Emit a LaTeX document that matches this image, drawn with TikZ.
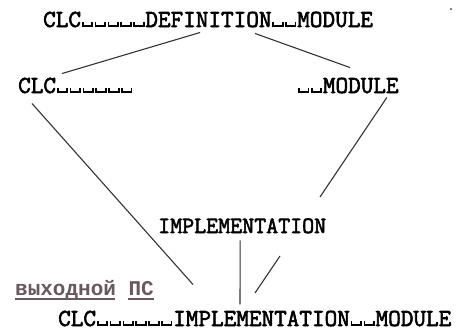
\documentclass[tikz,border=0pt]{standalone}
\usepackage{fontspec}
\newfontfamily\tw{Latin Modern Mono}[FakeBold=2.4]
\newfontfamily\cyr{Liberation Mono}
\newcommand\vsp{\makebox[0.525em]{\rule{0.07em}{0.2em}\rule{0.32em}{0.07em}\rule{0.07em}{0.2em}}}
\definecolor{stamp}{RGB}{105,88,95}
\tikzset{
  lbl/.style={inner sep=0, anchor=base west, font=\tw\fontsize{24.5}{26}\selectfont},
  ln/.style={line width=1.1pt, black!80}
}

\begin{document}
\begin{tikzpicture}[x=1pt, y=-1pt]
      \useasboundingbox (0,0) rectangle (461,330);

      \node (def) at (43,27) [lbl] {CLC\vsp\vsp\vsp\vsp\vsp DEFINITION\vsp\vsp MODULE};
      \node (clc) at (18,93) [lbl] {CLC\vsp\vsp\vsp\vsp\vsp\vsp};
      \node (mod) at (297,93) [lbl] {\vsp\vsp MODULE};
      \node (impl) at (158,233) [lbl, font=\tw\fontsize{23.3}{25}\selectfont] {IMPLEMENTATION};
      \node (out) at (15,295) [lbl, stamp, font=\cyr\bfseries\fontsize{21}{23}\selectfont] {выходной ПС};
      \node (res) at (58,326) [lbl] {CLC\vsp\vsp\vsp\vsp\vsp\vsp IMPLEMENTATION\vsp\vsp MODULE};

      % underline
      \draw [stamp, line width=2pt] ([yshift=-3.5pt]out.base west) -- ++(100,0);
      \draw [stamp, line width=2pt] ([xshift=-26pt,yshift=-3.5pt]out.base east) -- ++(26,0);

      \draw [ln] ([xshift=-8pt,yshift=-5pt]def.south) -- ([xshift=44pt,yshift=4pt]clc.north west);
      \draw [ln] ([xshift=47pt,yshift=-6pt]def.south) -- ([xshift=53pt,yshift=10pt]mod.north west);

      \draw [ln] ([xshift=14pt,yshift=-10pt]clc.south west) -- ([xshift=135pt,yshift=26pt]res.north west);

      \coordinate (brk) at (320,197);
      \coordinate (brk2) at (280,256);
      \coordinate (brk3) at (255,293);
      \draw [ln] ([xshift=-12pt,yshift=-4pt]mod.south east) -- (brk);
      \draw [ln] (brk2) -- (brk3);

      \draw [ln] ([xshift=-2pt,yshift=-7pt]impl.south) -- ([xshift=182pt,yshift=6pt]res.north west);

      \fill (451,9) circle (0.8);
\end{tikzpicture}
\end{document}
